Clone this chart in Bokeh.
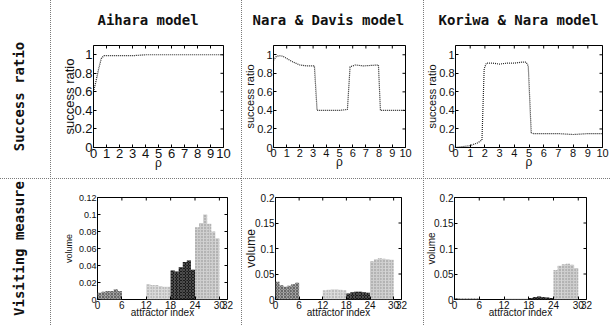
import math
from bokeh.plotting import figure
from bokeh.layouts import row, column
from bokeh.models import Range1d, FixedTicker, Title, ColumnDataSource, Spacer
from bokeh.embed import file_html
from bokeh.resources import INLINE

# ---------------- data ----------------
model_titles = ["Aihara model", "Nara & Davis model", "Koriwa & Nara model"]
row_labels = ["Success ratio", "Visiting measure"]

rho_ticks = [0, 1, 2, 3, 4, 5, 6, 7, 8, 9, 10]
ratio_ticks = [0, 0.2, 0.4, 0.6, 0.8, 1]
ratio_tick_labels = ["0", "0.2", "0.4", "0.6", "0.8", "1"]
index_ticks = [0, 6, 12, 18, 24, 30, 32]
aihara_volume_ticks = [0, 0.02, 0.04, 0.06, 0.08, 0.1, 0.12]
aihara_volume_tick_labels = ["0", "0.02", "0.04", "0.06", "0.08", "0.1", "0.12"]
volume_ticks = [0, 0.05, 0.1, 0.15, 0.2]
volume_tick_labels = ["0", "0.05", "0.1", "0.15", "0.2"]

aihara_rho = [0, 0.2, 0.4, 0.6, 0.8, 1.0, 1.5, 2, 3, 4, 5, 6, 7, 8, 9, 10]
aihara_ratio = [0.60, 0.72, 0.85, 0.96, 0.99, 0.99, 0.99, 0.99, 0.99, 1.0, 1.0, 1.0, 1.0, 1.0, 1.0, 1.0]

nara_rho = [0, 0.2, 0.4, 0.7, 1.0, 1.5, 2.0, 2.5, 3.1, 3.3, 4.0, 5.0, 5.6, 5.8, 6.2, 6.8, 7.4, 7.95, 8.1, 8.5, 9, 10]
nara_ratio = [0.94, 0.98, 0.99, 0.985, 0.96, 0.92, 0.89, 0.88, 0.88, 0.40, 0.40, 0.40, 0.41, 0.87, 0.89, 0.88, 0.885, 0.89, 0.40, 0.40, 0.40, 0.40]

koriwa_rho = [0, 0.5, 1.0, 1.5, 1.8, 1.95, 2.1, 2.5, 3, 3.5, 4, 4.5, 4.8, 4.95, 5.15, 5.3, 6, 7, 8, 9, 10]
koriwa_ratio = [0.0, 0.01, 0.02, 0.05, 0.08, 0.85, 0.91, 0.91, 0.90, 0.91, 0.91, 0.92, 0.92, 0.88, 0.16, 0.15, 0.15, 0.15, 0.14, 0.15, 0.15]

attractor_index = list(range(32))
aihara_volume = [0.008, 0.009, 0.010, 0.010, 0.012, 0.010,
                 0, 0, 0, 0, 0, 0,
                 0.018, 0.017, 0.017, 0.016, 0.015, 0.015,
                 0.034, 0.033, 0.038, 0.044, 0.046, 0.035,
                 0.085, 0.090, 0.100, 0.089, 0.080, 0.072,
                 0, 0]
nara_volume = [0.035, 0.028, 0.025, 0.027, 0.030, 0.033,
               0, 0, 0, 0, 0, 0,
               0.018, 0.019, 0.020, 0.020, 0.019, 0.018,
               0.012, 0.014, 0.015, 0.015, 0.014, 0.013,
               0.075, 0.079, 0.081, 0.080, 0.079, 0.078,
               0, 0]
koriwa_volume = [0.003, 0.002, 0.002, 0.002, 0.002, 0.002,
                 0, 0, 0, 0, 0, 0,
                 0.002, 0.002, 0.002, 0.002, 0.002, 0.002,
                 0.003, 0.005, 0.006, 0.005, 0.004, 0.003,
                 0.058, 0.066, 0.069, 0.070, 0.068, 0.062,
                 0, 0]
attractor_group = [0] * 6 + [1] * 6 + [2] * 6 + [3] * 6 + [4] * 6 + [5] * 2

group_fill = ["#999999", "#ffffff", "#d6d6d6", "#1a1a1a", "#cdcdcd", "#ffffff"]
group_hatch = ["x", " ", ".", "x", ".", " "]
group_hatch_color = ["#4a4a4a", "#ffffff", "#8a8a8a", "#6a6a6a", "#7a7a7a", "#ffffff"]

# ---------------- styling helpers ----------------
MONO = "DejaVu Sans Mono"
SANS = "Liberation Sans"
DOT_V = "linear-gradient(to bottom, #7a7a7a 50%, rgba(255,255,255,0) 50%)"
DOT_H = "linear-gradient(to right, #7a7a7a 50%, rgba(255,255,255,0) 50%)"

COL_W = [50, 191, 182, 187]
TITLE_H = 34
ROW_H = [144, 147]


def sep_styles(left, top):
    imgs, sizes, reps = [], [], []
    if left:
        imgs.append(DOT_V); sizes.append("1px 2px"); reps.append("repeat-y")
    if top:
        imgs.append(DOT_H); sizes.append("2px 1px"); reps.append("repeat-x")
    if not imgs:
        return {}
    return {"background-image": ", ".join(imgs),
            "background-size": ", ".join(sizes),
            "background-repeat": ", ".join(reps),
            "background-position": ", ".join(["0 0"] * len(imgs))}


def base_fig(w, h, left, right, top, bottom, xr, yr, styles):
    p = figure(width=w, height=h, toolbar_location=None, output_backend="svg",
               x_range=xr, y_range=yr, min_border_left=left, min_border_right=right,
               min_border_top=top, min_border_bottom=bottom,
               border_fill_color=None, background_fill_color="white",
               styles=styles)
    p.grid.visible = False
    p.outline_line_color = "black"
    p.outline_line_width = 1
    return p


def style_axes(p, xr, yr, xticks, yticks, ylabels, xfs, yfs, xlab, ylab,
               xlab_fs, ylab_fs, xlab_standoff, ylab_standoff):
    p.xaxis.ticker = FixedTicker(ticks=xticks)
    p.yaxis.ticker = FixedTicker(ticks=yticks)
    p.yaxis.major_label_overrides = dict(zip(yticks, ylabels))
    for ax, fs in ((p.xaxis[0], xfs), (p.yaxis[0], yfs)):
        ax.major_tick_in = 3
        ax.major_tick_out = 0
        ax.minor_tick_line_color = None
        ax.axis_line_color = None
        ax.major_label_text_font = SANS
        ax.major_label_text_font_size = fs
        ax.major_label_text_color = "#111111"
        ax.major_label_standoff = 1
        ax.axis_label_text_font = SANS
        ax.axis_label_text_font_style = "normal"
        ax.axis_label_text_color = "#111111"
    p.xaxis.axis_label = xlab
    p.yaxis.axis_label = ylab
    p.xaxis.axis_label_text_font_size = xlab_fs
    p.yaxis.axis_label_text_font_size = ylab_fs
    p.xaxis.axis_label_standoff = xlab_standoff
    p.yaxis.axis_label_standoff = ylab_standoff
    # inward tick marks on the top and right edges of the box
    p.scatter(x=xticks, y=[yr[1]] * len(xticks), marker="dash", size=6,
              angle=math.pi / 2, line_color="black", line_width=1)
    p.scatter(x=[xr[1]] * len(yticks), y=yticks, marker="dash", size=6,
              line_color="black", line_width=1)


def text_fig(w, h, left, right, top, bottom, styles):
    p = figure(width=w, height=h, toolbar_location=None, output_backend="svg",
               x_range=Range1d(0, 1), y_range=Range1d(0, 1),
               x_axis_location=None, y_axis_location=None,
               min_border_left=left, min_border_right=right, min_border_top=top,
               min_border_bottom=bottom, border_fill_color=None,
               background_fill_color=None, styles=styles)
    p.grid.visible = False
    p.outline_line_color = None
    return p


def label_fig(text, h, top, bottom, styles):
    p = text_fig(COL_W[0], h, 30, 0, top, bottom, styles)
    p.add_layout(Title(text=text, align="center", text_font=MONO, text_font_size="14px",
                       text_font_style="bold", text_color="#111111", standoff=7), "left")
    return p


# ---------------- title row ----------------
title_offset = [47, 11, 15]
title_row = [Spacer(width=COL_W[0], height=TITLE_H)]
for i in range(3):
    t = text_fig(COL_W[i + 1], TITLE_H, 0, 0, TITLE_H - 2, 0, sep_styles(True, False))
    t.title.text = model_titles[i]
    t.title.text_font = MONO
    t.title.text_font_size = "14px"
    t.title.text_font_style = "bold"
    t.title.text_color = "#111111"
    t.title.align = "left"
    t.title.offset = title_offset[i]
    t.title.standoff = 10
    title_row.append(t)

# ---------------- top row: success ratio ----------------
ratio_series = [(aihara_rho, aihara_ratio), (nara_rho, nara_ratio), (koriwa_rho, koriwa_ratio)]
top_left = [43, 29, 31]
top_right = [18, 18, 8]
tick_fs_top = ["13px", "11px", "11px"]
ylab_fs_top = ["13px", "11px", "11px"]
ylab_so_top = [-6, -2, -2]
rho_range = (0, 10)
ratio_range = (0, 1.1)

top_row = [label_fig(row_labels[0], ROW_H[0], 11, 19, {})]
for i in range(3):
    p = base_fig(COL_W[i + 1], ROW_H[0], top_left[i], top_right[i], 11, 31,
                 Range1d(*rho_range), Range1d(*ratio_range), sep_styles(True, False))
    style_axes(p, rho_range, ratio_range, rho_ticks, ratio_ticks, ratio_tick_labels,
               tick_fs_top[i], tick_fs_top[i], "ρ", "success ratio", "12px",
               ylab_fs_top[i], -5, ylab_so_top[i])
    xs, ys = ratio_series[i]
    p.line(xs, ys, line_color="#222222", line_width=1.2, line_dash="1 1")
    top_row.append(p)

# ---------------- bottom row: visiting measure ----------------
volume_series = [aihara_volume, nara_volume, koriwa_volume]
vol_ranges = [(0, 0.12), (0, 0.2), (0, 0.2)]
vol_ticks = [aihara_volume_ticks, volume_ticks, volume_ticks]
vol_tick_labels = [aihara_volume_tick_labels, volume_tick_labels, volume_tick_labels]
index_range = (0, 32)
bot_left = [47, 27, 30]
bot_right = [14, 22, 24]
ytick_fs_bot = ["9px", "10px", "10px"]
ylab_fs_bot = ["9px", "12px", "10px"]
ylab_so_bot = [2, -6, -6]

bottom_row = [label_fig(row_labels[1], ROW_H[1], 14, 18, sep_styles(False, True))]
for i in range(3):
    p = base_fig(COL_W[i + 1], ROW_H[1], bot_left[i], bot_right[i], 19, 26,
                 Range1d(*index_range), Range1d(*vol_ranges[i]), sep_styles(True, True))
    style_axes(p, index_range, vol_ranges[i], index_ticks, vol_ticks[i], vol_tick_labels[i],
               "10px", ytick_fs_bot[i], "attractor index", "volume", "10px",
               ylab_fs_bot[i], -5, ylab_so_bot[i])
    src = ColumnDataSource(dict(
        x=[k + 0.5 for k in attractor_index],
        top=volume_series[i],
        fill=[group_fill[g] for g in attractor_group],
        hatch=[group_hatch[g] for g in attractor_group],
        hcol=[group_hatch_color[g] for g in attractor_group],
    ))
    p.vbar(x="x", top="top", width=1.0, bottom=0, source=src, fill_color="fill",
           line_color=None, hatch_pattern="hatch", hatch_color="hcol",
           hatch_scale=3, hatch_weight=0.8, hatch_alpha=0.8)
    bottom_row.append(p)

layout = column(row(*title_row), row(*top_row), row(*bottom_row))
open("out.html", "w").write(file_html(layout, INLINE))
